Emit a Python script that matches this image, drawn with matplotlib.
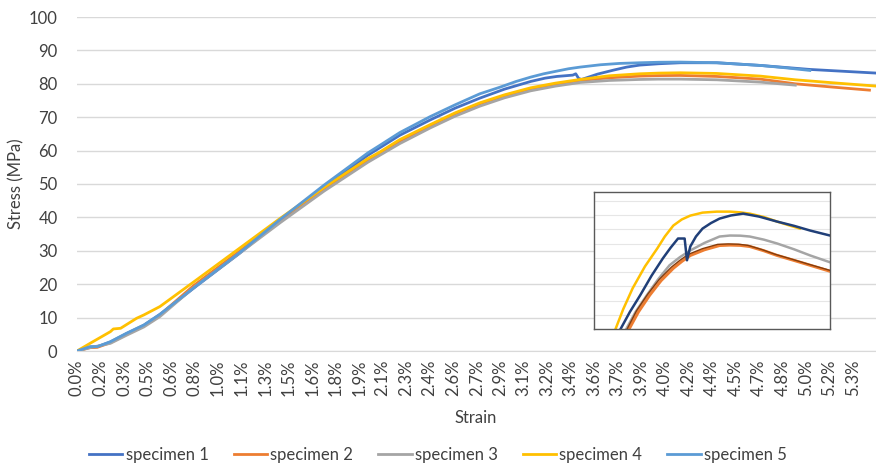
import matplotlib.pyplot as plt
import numpy as np

# ---- data (strain in %, stress in MPa) ----
s5_strain = [0, 0.09, 0.14, 0.23, 0.34, 0.46, 0.57, 0.82, 1.12, 1.40, 1.70, 2.00, 2.08, 2.22,
             2.43, 2.60, 2.77, 2.91, 3.02, 3.12, 3.21, 3.30, 3.38, 3.46, 3.60, 3.73, 3.87,
             4.00, 4.15, 4.40, 4.70, 4.87, 5.04]
s5_stress = [0, 1.3, 1.3, 2.8, 5.3, 7.8, 11.0, 19.5, 29.5, 39.5, 49.7, 59.3, 61.5, 65.4,
             70.2, 73.7, 77.0, 79.0, 80.7, 82.0, 83.0, 83.8, 84.5, 85.0, 85.7, 86.1, 86.3,
             86.45, 86.5, 86.3, 85.5, 84.8, 84.0]

s1_strain = [0, 0.09, 0.14, 0.23, 0.34, 0.46, 0.57, 0.82, 1.12, 1.40, 1.70, 2.00, 2.22, 2.43,
             2.60, 2.77, 2.94, 3.12, 3.22, 3.30, 3.41, 3.43, 3.45, 3.47, 3.58, 3.69, 3.78,
             3.87, 4.00, 4.15, 4.40, 4.70, 5.04, 5.50]
s1_stress = [0, 1.2, 1.3, 2.7, 5.2, 7.7, 10.9, 19.4, 29.3, 39.2, 49.2, 58.6, 64.6, 69.2,
             72.7, 75.7, 78.4, 80.7, 81.7, 82.2, 82.6, 83.0, 81.6, 81.3, 82.9, 84.1, 85.0,
             85.6, 86.0, 86.3, 86.3, 85.5, 84.3, 83.2]

s2_strain = [0, 0.09, 0.14, 0.23, 0.34, 0.46, 0.57, 0.80, 1.10, 1.40, 1.70, 2.00, 2.22, 2.43,
             2.60, 2.77, 2.94, 3.12, 3.29, 3.46, 3.66, 3.87, 4.00, 4.15, 4.40, 4.70, 4.94,
             5.20, 5.45]
s2_stress = [0, 1.0, 1.1, 2.5, 5.0, 7.6, 10.8, 19.5, 29.3, 39.2, 48.6, 57.2, 62.8, 67.5,
             71.0, 74.0, 76.4, 78.5, 79.9, 81.0, 81.8, 82.3, 82.45, 82.5, 82.2, 81.4, 80.0,
             79.0, 78.1]

s3_strain = [0, 0.09, 0.23, 0.34, 0.46, 0.57, 0.80, 1.10, 1.40, 1.70, 2.00, 2.22, 2.43, 2.60,
             2.77, 2.94, 3.12, 3.29, 3.46, 3.66, 3.87, 4.00, 4.15, 4.40, 4.70, 4.94]
s3_stress = [0, 1.0, 2.3, 4.7, 7.2, 10.3, 18.9, 28.7, 38.5, 47.9, 56.5, 62.1, 66.8, 70.3,
             73.3, 75.8, 77.9, 79.3, 80.4, 81.0, 81.3, 81.4, 81.4, 81.2, 80.5, 79.6]

s4_strain = [0, 0.09, 0.23, 0.25, 0.30, 0.41, 0.46, 0.57, 0.80, 1.10, 1.40, 1.70, 2.00, 2.08,
             2.22, 2.43, 2.60, 2.77, 2.94, 3.12, 3.29, 3.46, 3.66, 3.87, 4.00, 4.15, 4.40,
             4.70, 4.94, 5.20, 5.50]
s4_stress = [0, 2.3, 5.8, 6.6, 6.8, 9.8, 10.8, 13.3, 20.6, 30.2, 39.8, 49.0, 57.6, 59.5,
             63.3, 67.8, 71.3, 74.3, 76.7, 78.8, 80.2, 81.3, 82.4, 83.0, 83.2, 83.3, 83.1,
             82.3, 81.2, 80.3, 79.3]

x_labels = ["0.0%", "0.2%", "0.3%", "0.5%", "0.6%", "0.8%", "1.0%", "1.1%", "1.3%", "1.5%",
            "1.6%", "1.8%", "1.9%", "2.1%", "2.3%", "2.4%", "2.6%", "2.7%", "2.9%", "3.1%",
            "3.2%", "3.4%", "3.6%", "3.7%", "3.9%", "4.0%", "4.2%", "4.4%", "4.5%", "4.7%",
            "4.8%", "5.0%", "5.2%", "5.3%"]

# ---- inset (zoom near the peak) ----
in4_x = [3.22, 3.31, 3.41, 3.54, 3.67, 3.75, 3.84, 3.93, 4.02, 4.15, 4.30, 4.44, 4.55, 4.65,
         4.80, 4.94, 5.06, 5.18]
in4_y = [74.86, 76.4, 77.87, 79.4, 80.66, 81.5, 82.27, 82.7, 82.97, 83.18, 83.25, 83.25,
         83.2, 83.11, 82.87, 82.55, 82.3, 82.06]
in1_x = [3.27, 3.38, 3.49, 3.61, 3.73, 3.81, 3.89, 3.96, 3.985, 4.02, 4.08, 4.15, 4.24,
         4.33, 4.45, 4.58, 4.75, 4.94, 5.12, 5.29, 5.50]
in1_y = [74.86, 76.2, 77.38, 78.75, 79.97, 80.7, 81.36, 81.36, 79.83, 80.80, 81.5, 82.06,
         82.45, 82.76, 82.98, 83.11, 82.9, 82.55, 82.25, 81.92, 81.57]
in3_x = [3.33, 3.44, 3.56, 3.68, 3.80, 3.91, 4.02, 4.17, 4.33, 4.44, 4.55, 4.65, 4.80, 4.94,
         5.12, 5.29, 5.50]
in3_y = [74.86, 76.2, 77.38, 78.5, 79.48, 80.05, 80.52, 81.05, 81.50, 81.57, 81.56, 81.50,
         81.28, 81.01, 80.6, 80.17, 79.69]
in2_x = [3.36, 3.47, 3.59, 3.71, 3.84, 3.93, 4.02, 4.17, 4.33, 4.44, 4.55, 4.65, 4.80, 4.94,
         5.12, 5.29, 5.50]
in2_y = [74.86, 76.2, 77.38, 78.4, 79.27, 79.75, 80.17, 80.57, 80.87, 80.90, 80.88, 80.80,
         80.5, 80.17, 79.82, 79.48, 79.06]
in6_x = [3.34, 3.45, 3.57, 3.69, 3.82, 3.91, 4.00, 4.15, 4.31, 4.42, 4.53, 4.63, 4.78, 4.92,
         5.10, 5.27, 5.50]
in6_y = [74.86, 76.28, 77.46, 78.48, 79.35, 79.83, 80.25, 80.65, 80.95, 80.98, 80.96, 80.88,
         80.58, 80.25, 79.9, 79.56, 79.12]

c1, c2, c3, c4, c5 = "#4472C4", "#ED7D31", "#A5A5A5", "#FFC000", "#5B9BD5"
txt = "#404040"

plt.rcParams['font.family'] = ['Lato', 'DejaVu Sans']

fig = plt.figure(figsize=(8.76, 4.66), dpi=100)
ax = fig.add_axes([77/876, 1-351/466, 799/876, 334/466])

ax.plot(s1_strain, s1_stress, color=c1, lw=2, label="specimen 1")
ax.plot(s2_strain, s2_stress, color=c2, lw=2, label="specimen 2")
ax.plot(s3_strain, s3_stress, color=c3, lw=2, label="specimen 3")
ax.plot(s4_strain, s4_stress, color=c4, lw=2, label="specimen 4")
ax.plot(s5_strain, s5_stress, color=c5, lw=2, label="specimen 5")

step = 0.1617
ax.set_xticks(np.arange(len(x_labels)) * step)
ax.set_xticklabels(x_labels, rotation=90)
ax.set_xlim(0, 5.495)
ax.set_ylim(0, 100)
ax.set_yticks(range(0, 101, 10))
ax.tick_params(axis='x', length=0, pad=6, labelsize=12, labelcolor=txt)
ax.tick_params(axis='y', length=0, pad=14, labelsize=12, labelcolor=txt)
ax.grid(axis='y', color="#D9D9D9", lw=1)
ax.set_axisbelow(True)
for sp in ["top", "right", "left"]:
    ax.spines[sp].set_visible(False)
ax.spines["bottom"].set_color("#D9D9D9")

fig.text(16/876, 1-184/466, "Stress (MPa)", rotation=90, ha="center", va="center",
         fontsize=12, color=txt)
fig.text(476/876, 1-418/466, "Strain", ha="center", va="center", fontsize=12, color=txt)

fig.legend(loc="center", bbox_to_anchor=(0.5, 1-455/466), ncol=5, frameon=False,
           fontsize=12, handlelength=2.0, handletextpad=0.2, columnspacing=1.5,
           labelcolor=txt)

# inset
axi = fig.add_axes([594/876, 1-329/466, 236/876, 137/466])
axi.plot(in4_x, in4_y, color="#FFC000", lw=1.8)
axi.plot(in3_x, in3_y, color="#A5A5A5", lw=1.8)
axi.plot(in2_x, in2_y, color="#ED7D31", lw=2.2)
axi.plot(in6_x, in6_y, color="#843C0C", lw=1.0)
axi.plot(in1_x, in1_y, color="#203F78", lw=1.8)
axi.set_xlim(3.0, 5.5)
axi.set_ylim(75, 84.63)
axi.set_yticks(range(76, 85))
axi.grid(axis='y', color="#E6E6E6", lw=0.8)
axi.set_axisbelow(True)
axi.tick_params(length=0, labelleft=False, labelbottom=False)
for sp in axi.spines.values():
    sp.set_color("#595959")
    sp.set_linewidth(1)

fig.savefig("out.png", dpi=100)
